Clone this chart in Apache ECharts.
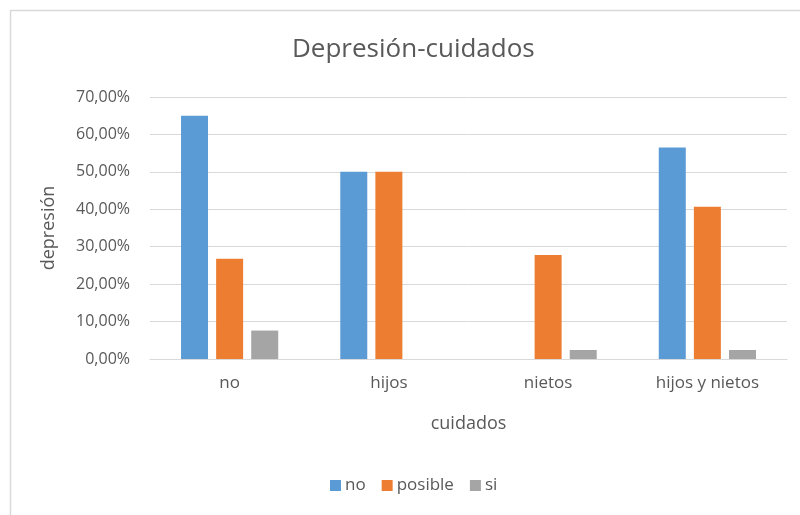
<!DOCTYPE html>
<html>
<head>
<meta charset="utf-8">
<script src="https://cdn.jsdelivr.net/npm/echarts@6/dist/echarts.min.js"></script>
<style>html,body{margin:0;padding:0;background:#fff}#c{width:800px;height:515px}</style>
</head>
<body>
<div id="c"></div>
<script>
var categories = ['no', 'hijos', 'nietos', 'hijos y nietos'];
var seriesNames = ['no', 'posible', 'si'];
var valuesNo = [65.0, 50.0, 0, 56.5];
var valuesPosible = [26.8, 50.0, 27.8, 40.7];
var valuesSi = [7.6, 0, 2.4, 2.4];
var yTicks = [0, 10, 20, 30, 40, 50, 60, 70];
var colors = ['#5B9BD5', '#ED7D31', '#A5A5A5'];

var FONT = '"Open Sans", sans-serif';
var TXT = '#595959';
var chart = echarts.init(document.getElementById('c'), null, {renderer: 'canvas'});
var allValues = [valuesNo, valuesPosible, valuesSi];
chart.setOption({
  animation: false,
  textStyle: {fontFamily: FONT},
  graphic: [{
    type: 'rect', left: 8, top: 8, silent: true,
    shape: {x: 0, y: 0, width: 900, height: 600},
    style: {fill: 'none', stroke: '#d9d9d9', lineWidth: 1.5}
  }],
  title: {
    text: 'Depresión-cuidados', left: 287, top: 32,
    textStyle: {fontFamily: FONT, fontSize: 26, fontWeight: 'normal', color: TXT}
  },
  legend: {
    data: seriesNames, bottom: 16, left: 325,
    itemWidth: 11, itemHeight: 11, itemGap: 16, icon: 'rect',
    textStyle: {fontFamily: FONT, fontSize: 17, color: TXT, padding: [0, 0, 0, -1]}
  },
  grid: {left: 150, right: 13, top: 97, bottom: 156, containLabel: false},
  xAxis: {
    type: 'category', data: categories,
    name: 'cuidados', nameLocation: 'middle', nameGap: 56,
    nameTextStyle: {fontFamily: FONT, fontSize: 18, color: TXT},
    axisLine: {lineStyle: {color: '#d9d9d9'}},
    axisTick: {show: false},
    axisLabel: {fontFamily: FONT, fontSize: 17, color: TXT, margin: 16}
  },
  yAxis: {
    type: 'value', min: yTicks[0], max: yTicks[yTicks.length - 1], interval: 10,
    name: 'depresión', nameLocation: 'middle', nameGap: 92, nameRotate: 90,
    nameTextStyle: {fontFamily: FONT, fontSize: 18, color: TXT},
    axisLine: {show: false}, axisTick: {show: false},
    splitLine: {lineStyle: {color: '#d9d9d9'}},
    axisLabel: {
      fontFamily: FONT, fontSize: 16, color: TXT, margin: 20,
      formatter: function (v) { return v.toFixed(2).replace('.', ',') + '%'; }
    }
  },
  series: seriesNames.map(function (n, i) {
    return {
      name: n, type: 'bar', data: allValues[i],
      barWidth: 27, barGap: '30%',
      itemStyle: {color: colors[i]}
    };
  })
});
</script>
</body>
</html>
